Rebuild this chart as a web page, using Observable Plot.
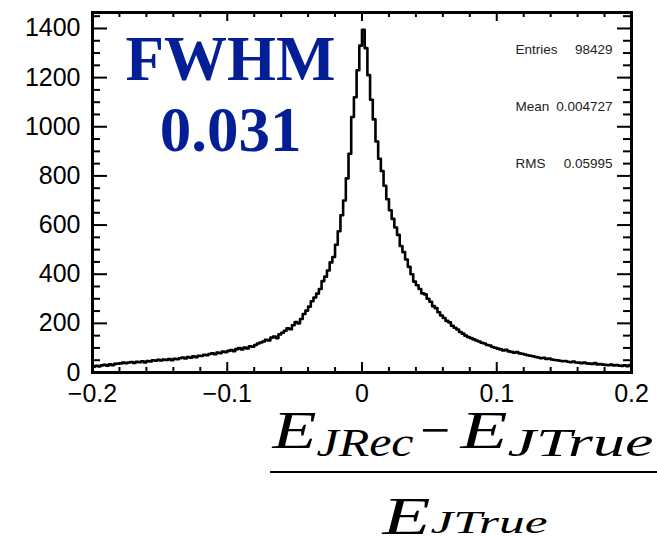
<!DOCTYPE html>
<html><head><meta charset="utf-8">
<script src="https://cdn.jsdelivr.net/npm/d3@7"></script>
<script src="https://cdn.jsdelivr.net/npm/@observablehq/plot@0.6"></script>
<style>
body{margin:0;background:#fff;}
#c{width:657px;height:536px;overflow:hidden;}
</style></head><body><div id="c"></div>
<script>
// Histogram: 200 bins of width 0.002 from -0.2 to 0.2
const binStart = -0.2;
const binWidth = 0.002;
const counts = [
  24, 27, 25, 29, 31, 28, 33, 30, 35, 36,
  37, 40, 38, 41, 43, 39, 44, 42, 46, 41,
  47, 45, 50, 48, 52, 49, 53, 51, 55, 50,
  56, 54, 58, 61, 57, 63, 60, 66, 62, 68,
  67, 72, 70, 75, 78, 74, 81, 79, 85, 83,
  88, 91, 87, 95, 99, 94, 102, 98, 107, 105,
  112, 118, 122, 126, 133, 130, 142, 146, 140, 155,
  162, 170, 180, 176, 192, 205, 200, 218, 238, 252,
  268, 290, 305, 321, 340, 372, 390, 415, 448, 470,
  520, 575, 640, 700, 790, 890, 1040, 1120, 1230, 1330,
  1395, 1320, 1210, 1110, 1030, 940, 870, 820, 760, 705,
  660, 625, 590, 560, 515, 490, 460, 430, 400, 370,
  355, 340, 322, 318, 300, 288, 270, 262, 245, 232,
  222, 210, 204, 190, 182, 175, 165, 158, 150, 144,
  140, 135, 130, 126, 121, 118, 112, 110, 104, 101,
  97, 94, 90, 92, 86, 84, 81, 83, 78, 76,
  73, 70, 68, 66, 63, 61, 58, 60, 55, 57,
  53, 51, 50, 48, 46, 47, 44, 42, 45, 41,
  40, 38, 41, 37, 36, 35, 38, 33, 34, 32,
  31, 30, 32, 29, 30, 28, 27, 29, 26, 30
];
const xTickValues = [-0.2, -0.1, 0, 0.1, 0.2];
const xMinorTicks = [-0.18,-0.16,-0.14,-0.12,-0.08,-0.06,-0.04,-0.02,0.02,0.04,0.06,0.08,0.12,0.14,0.16,0.18];
const yTickValues = [0, 200, 400, 600, 800, 1000, 1200, 1400];
const yMinorTicks = [50,100,150,250,300,350,450,500,550,650,700,750,850,900,950,1050,1100,1150,1250,1300,1350,1450];
const statLabels = ["Entries", "Mean", "RMS"];
const statValues = ["98429", "0.004727", "0.05995"];
const fwhmLines = ["FWHM", "0.031"];

const W = 657, H = 536;
const mL = 92, mR = 26, mT = 12, mB = 164;
const frameW = W - mL - mR, frameH = H - mT - mB;

const pts = counts.map((c, i) => ({x: binStart + i * binWidth, y: c}));
pts.push({x: binStart + counts.length * binWidth, y: counts[counts.length - 1]});

const sans = "'Liberation Sans', Arial, Helvetica, sans-serif";
const serif = "'Liberation Serif', 'Times New Roman', serif";

// formula pieces: text, left, baseline, size, italic, target width (null = natural)
const fracPieces = [];
function fracText(t, left, baseline, size, italic, len) {
  fracPieces.push({t, len});
  return Plot.text([t], {frameAnchor: "bottom-left", dx: left - mL, dy: baseline - (H - mB),
    textAnchor: "start", lineAnchor: "bottom", fontSize: size, fontFamily: serif,
    fontStyle: italic ? "italic" : "normal", fill: "#000"});
}

const chart = Plot.plot({
  width: W, height: H,
  marginLeft: mL, marginRight: mR, marginTop: mT, marginBottom: mB,
  style: {fontFamily: sans, background: "#fff", color: "#000", overflow: "visible"},
  x: {domain: [-0.2, 0.2]},
  y: {domain: [0, 1465]},
  marks: [
    Plot.axisX({ticks: xTickValues, tickSize: 0, tickPadding: 12, fontSize: 25, label: null,
      tickFormat: d => d3.format("~g")(d)}),
    Plot.axisY({ticks: yTickValues, tickSize: 0, tickPadding: 12, fontSize: 25, label: null,
      tickFormat: d3.format("d")}),
    // inward ticks, bottom & top
    Plot.ruleX(xTickValues, {insetTop: frameH - 10, strokeWidth: 2, stroke: "#000"}),
    Plot.ruleX(xMinorTicks, {insetTop: frameH - 5, strokeWidth: 2, stroke: "#000"}),
    Plot.ruleX(xTickValues, {insetBottom: frameH - 9, strokeWidth: 2, stroke: "#000"}),
    Plot.ruleX(xMinorTicks, {insetBottom: frameH - 5, strokeWidth: 2, stroke: "#000"}),
    // inward ticks, left & right
    Plot.ruleY(yTickValues, {insetRight: frameW - 15, strokeWidth: 2, stroke: "#000"}),
    Plot.ruleY(yMinorTicks, {insetRight: frameW - 8, strokeWidth: 2, stroke: "#000"}),
    Plot.ruleY(yTickValues, {insetLeft: frameW - 14, strokeWidth: 2, stroke: "#000"}),
    Plot.ruleY(yMinorTicks, {insetLeft: frameW - 8, strokeWidth: 2, stroke: "#000"}),
    // histogram outline
    Plot.line(pts, {x: "x", y: "y", curve: "step-after", stroke: "#000", strokeWidth: 2.6}),
    Plot.frame({stroke: "#000", strokeWidth: 3}),
    // stats box
    Plot.text([statLabels.join("\n")], {frameAnchor: "top-right", dx: -116, dy: 1.5,
      textAnchor: "start", lineAnchor: "top", lineHeight: 57 / 13.5, fontSize: 13.5, fontFamily: sans, fill: "#222"}),
    Plot.text([statValues.join("\n")], {frameAnchor: "top-right", dx: -19, dy: 1.5,
      textAnchor: "end", lineAnchor: "top", lineHeight: 57 / 13.5, fontSize: 13.5, fontFamily: sans, fill: "#222"}),
    // FWHM annotation
    Plot.text([fwhmLines.join("\n")], {frameAnchor: "top-left", dx: 138, dy: 17,
      textAnchor: "middle", lineAnchor: "top", lineHeight: 71 / 63, fontSize: 63,
      fontFamily: serif, fontWeight: "bold", fill: "#041e96"}),
    // axis title (fraction)
    fracText("E", 272, 447, 53, true, 44),
    fracText("JRec", 316, 455, 39, true, 97),
    fracText("\u2212", 420, 447, 53, false, null),
    fracText("E", 460, 447, 53, true, 47),
    fracText("JTrue", 507, 455, 39, true, 146),
    fracText("E", 382, 533, 53, true, 48),
    fracText("JTrue", 430, 532, 31, true, 117)
  ]
});
// widen the formula pieces to the reference's extents (match in document order)
const texts = Array.from(chart.querySelectorAll("text"));
let from = 0;
for (const p of fracPieces) {
  for (let i = from; i < texts.length; i++) {
    if (texts[i].textContent === p.t) {
      if (p.len) {
        texts[i].setAttribute("textLength", p.len);
        texts[i].setAttribute("lengthAdjust", "spacingAndGlyphs");
      }
      from = i + 1;
      break;
    }
  }
}
// fraction bar
d3.select(chart).append("line")
  .attr("x1", 270).attr("x2", 657).attr("y1", 472).attr("y2", 472)
  .attr("stroke", "#000").attr("stroke-width", 2);
document.getElementById("c").appendChild(chart);
</script>
</body></html>
